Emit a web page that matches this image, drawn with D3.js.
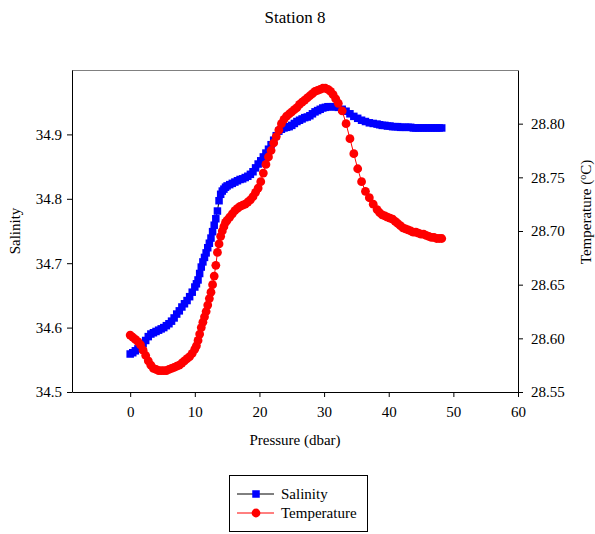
<!DOCTYPE html>
<html>
<head>
<meta charset="utf-8">
<script src="https://cdn.jsdelivr.net/npm/d3@7/dist/d3.min.js"></script>
<style>
  html, body { margin: 0; padding: 0; background: #fff; }
  svg { display: block; font-family: "Liberation Serif", "Times New Roman", serif; }
</style>
</head>
<body>
<svg id="chart" width="595" height="534"></svg>
<script>
// ---- data ----
const pressure = [
  0.0, 0.4, 0.8, 1.2, 1.6, 2.0, 2.4, 2.8, 3.2, 3.6, 4.0, 4.4, 4.8, 5.2, 5.6, 6.0, 6.4, 6.8, 7.2, 7.6, 8.0, 8.4, 8.8, 9.2, 9.6, 10.0,
  10.25, 10.5, 10.75, 11.0, 11.25, 11.5, 11.75, 12.0, 12.25, 12.5, 12.75, 13.0, 13.25, 13.5, 13.75, 14.0, 14.25, 14.5, 14.75, 15.0,
  15.4, 15.8, 16.2, 16.6, 17.0, 17.4, 17.8, 18.2, 18.6, 19.0, 19.4, 19.8, 20.2, 20.6, 21.0, 21.4, 21.8, 22.2, 22.6, 23.0, 23.4, 23.8,
  24.2, 24.6, 25.0, 25.4, 25.8, 26.2, 26.6, 27.0, 27.4, 27.8, 28.2, 28.6, 29.0, 29.4, 29.8, 30.2, 30.6, 31.0, 31.4, 31.8, 32.2,
  32.8, 33.4, 34.0, 34.6, 35.2, 35.8, 36.4, 37.0, 37.6,
  38.2, 38.6, 39.0, 39.4, 39.8, 40.2, 40.6, 41.0, 41.4, 41.8, 42.2, 42.6, 43.0, 43.4, 43.8, 44.2, 44.6, 45.0, 45.4, 45.8, 46.2, 46.6, 47.0, 47.4, 47.8, 48.2
];
const salinity = [
  34.559, 34.561, 34.564, 34.567, 34.571, 34.575, 34.580, 34.586, 34.590, 34.592, 34.594, 34.596, 34.598, 34.600, 34.603, 34.606, 34.610, 34.615, 34.621, 34.626, 34.632, 34.637, 34.642, 34.648, 34.655, 34.663,
  34.668, 34.674, 34.684, 34.694, 34.702, 34.709, 34.716, 34.724, 34.731, 34.739, 34.749, 34.759, 34.769, 34.781, 34.797, 34.807, 34.812, 34.815, 34.818, 34.820,
  34.822, 34.824, 34.826, 34.828, 34.830, 34.831, 34.833, 34.835, 34.838, 34.842, 34.848, 34.854, 34.859, 34.865, 34.871, 34.877, 34.884, 34.891, 34.898, 34.905, 34.908, 34.910,
  34.911, 34.912, 34.914, 34.917, 34.920, 34.922, 34.924, 34.926, 34.927, 34.929, 34.932, 34.935, 34.937, 34.939, 34.941, 34.942, 34.943, 34.943, 34.943, 34.943, 34.942,
  34.939, 34.936, 34.932, 34.928, 34.925, 34.922, 34.920, 34.918, 34.917,
  34.916, 34.915, 34.914, 34.914, 34.913, 34.913, 34.912, 34.912, 34.912, 34.911, 34.911, 34.911, 34.911, 34.911, 34.910, 34.910, 34.910, 34.910, 34.910, 34.910, 34.910, 34.910, 34.910, 34.910, 34.910, 34.910
];
const temperature = [
  28.603, 28.601, 28.599, 28.597, 28.594, 28.589, 28.584, 28.579, 28.575, 28.572, 28.571, 28.570, 28.570, 28.570, 28.570, 28.571, 28.572, 28.573, 28.574, 28.575, 28.577, 28.579, 28.581, 28.583, 28.586, 28.590,
  28.593, 28.598, 28.604, 28.610, 28.615, 28.620, 28.625, 28.631, 28.637, 28.643, 28.650, 28.658, 28.668, 28.680, 28.688, 28.695, 28.700, 28.704, 28.708, 28.710,
  28.713, 28.716, 28.719, 28.721, 28.723, 28.724, 28.725, 28.727, 28.729, 28.732, 28.736, 28.740, 28.746, 28.754, 28.762, 28.769, 28.775, 28.782, 28.788, 28.794, 28.800, 28.804,
  28.807, 28.809, 28.811, 28.813, 28.815, 28.818, 28.820, 28.822, 28.824, 28.826, 28.828, 28.830, 28.831, 28.832, 28.833, 28.833, 28.832, 28.830, 28.827, 28.823, 28.819,
  28.812, 28.800, 28.786, 28.772, 28.758, 28.746, 28.737, 28.731, 28.725,
  28.720, 28.717, 28.715, 28.714, 28.713, 28.712, 28.711, 28.709, 28.707, 28.705, 28.703, 28.702, 28.701, 28.700, 28.699, 28.699, 28.698, 28.697, 28.697, 28.696, 28.695, 28.694, 28.694, 28.693, 28.693, 28.693
];
const xTicks = [0, 10, 20, 30, 40, 50, 60];
const salTicks = [34.5, 34.6, 34.7, 34.8, 34.9];
const tempTicks = [28.55, 28.60, 28.65, 28.70, 28.75, 28.80];
const xDomain = [-9, 60];
const salDomain = [34.5, 35.0];
const tempDomain = [28.55, 28.85];
const seriesNames = ["Salinity", "Temperature"];
const titleText = "Station 8";

// ---- layout ----
const svg = d3.select("#chart");
const L = 72, R = 518, T = 70, B = 392;
const x = d3.scaleLinear().domain(xDomain).range([L, R]);
const yS = d3.scaleLinear().domain(salDomain).range([B, T]);
const yT = d3.scaleLinear().domain(tempDomain).range([B, T]);
const FONT = 15;

// top border
svg.append("line").attr("x1", L).attr("x2", R).attr("y1", T + 0.5).attr("y2", T + 0.5)
  .attr("stroke", "#808080").attr("stroke-width", 1);

function styleAxis(g) {
  g.selectAll("path.domain").attr("stroke", "#000").attr("stroke-width", 1);
  g.selectAll(".tick line").attr("stroke", "#000");
  g.selectAll(".tick text").attr("fill", "#000")
    .style("font-family", '"Liberation Serif", "Times New Roman", serif').style("font-size", FONT + "px");
}

svg.append("g").attr("transform", `translate(0,${B})`)
  .call(d3.axisBottom(x).tickValues(xTicks).tickSize(5).tickSizeOuter(0).tickPadding(9).tickFormat(d3.format("d")))
  .call(styleAxis);
svg.append("g").attr("transform", `translate(${L},0)`)
  .call(d3.axisLeft(yS).tickValues(salTicks).tickSize(5).tickSizeOuter(0).tickPadding(5).tickFormat(d3.format(".1f")))
  .call(styleAxis);
svg.append("g").attr("transform", `translate(${R},0)`)
  .call(d3.axisRight(yT).tickValues(tempTicks).tickSize(5).tickSizeOuter(0).tickPadding(8).tickFormat(d3.format(".2f")))
  .call(styleAxis);

// ---- series ----
const rows = pressure.map((p, i) => ({ p, s: salinity[i], t: temperature[i] }));

svg.append("path").datum(rows)
  .attr("fill", "none").attr("stroke", "#000").attr("stroke-width", 1)
  .attr("d", d3.line().x(d => x(d.p)).y(d => yS(d.s)));
const SQ = 7.5;
svg.append("g").selectAll("rect").data(rows).join("rect")
  .attr("x", d => x(d.p) - SQ / 2).attr("y", d => yS(d.s) - SQ / 2)
  .attr("width", SQ).attr("height", SQ).attr("fill", "#0000ff");

svg.append("path").datum(rows)
  .attr("fill", "none").attr("stroke", "#ff0000").attr("stroke-width", 1)
  .attr("d", d3.line().x(d => x(d.p)).y(d => yT(d.t)));
svg.append("g").selectAll("circle").data(rows).join("circle")
  .attr("cx", d => x(d.p)).attr("cy", d => yT(d.t)).attr("r", 4.4).attr("fill", "#ff0000");

// ---- titles ----
svg.append("text").attr("x", 295).attr("y", 23).attr("text-anchor", "middle")
  .style("font-size", "17px").text(titleText);
svg.append("text").attr("x", 295).attr("y", 445).attr("text-anchor", "middle")
  .style("font-size", FONT + "px").text("Pressure (dbar)");
svg.append("text").attr("transform", "translate(20,231) rotate(-90)").attr("text-anchor", "middle")
  .style("font-size", FONT + "px").text("Salinity");
const tl = svg.append("text").attr("transform", "translate(591,212) rotate(-90)").attr("text-anchor", "middle")
  .style("font-size", FONT + "px");
tl.append("tspan").text("Temperature (");
tl.append("tspan").attr("dy", -5).style("font-size", "10px").text("o");
tl.append("tspan").attr("dy", 5).text("C)");

// ---- legend ----
const lg = svg.append("g");
lg.append("rect").attr("x", 229.5).attr("y", 475.5).attr("width", 138).attr("height", 56)
  .attr("fill", "#fff").attr("stroke", "#000").attr("stroke-width", 1);
const legendItems = [
  { name: seriesNames[0], line: "#000", fill: "#0000ff", shape: "square", y: 494 },
  { name: seriesNames[1], line: "#ff0000", fill: "#ff0000", shape: "circle", y: 513 }
];
legendItems.forEach(it => {
  lg.append("line").attr("x1", 237).attr("x2", 274).attr("y1", it.y).attr("y2", it.y)
    .attr("stroke", it.line).attr("stroke-width", 1);
  if (it.shape === "square") {
    lg.append("rect").attr("x", 256 - 3.75).attr("y", it.y - 3.75).attr("width", 7.5).attr("height", 7.5).attr("fill", it.fill);
  } else {
    lg.append("circle").attr("cx", 256).attr("cy", it.y).attr("r", 4.4).attr("fill", it.fill);
  }
  lg.append("text").attr("x", 281).attr("y", it.y + 5).style("font-size", FONT + "px").text(it.name);
});
</script>
</body>
</html>
